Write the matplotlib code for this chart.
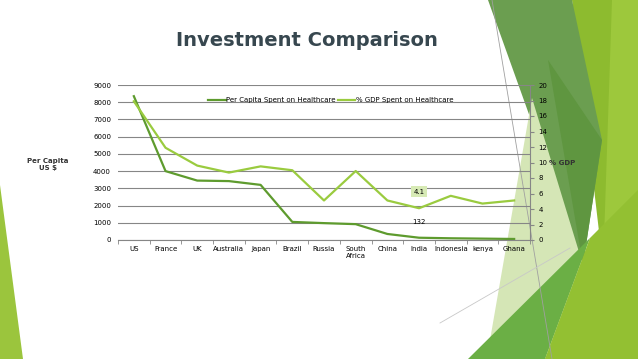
import numpy as np
import matplotlib
matplotlib.use("Agg")
import matplotlib.pyplot as plt
from matplotlib.patches import Polygon

countries = ["US", "France", "UK", "Australia", "Japan", "Brazil", "Russia",
             "South\nAfrica", "China", "India", "Indonesia", "kenya", "Ghana"]
per_capita = [8350, 4000, 3450, 3420, 3200, 1050, 980, 920, 350, 132, 100, 80, 60]
gdp_pct = [17.9, 11.9, 9.6, 8.7, 9.5, 9.0, 5.1, 8.9, 5.1, 4.1, 5.7, 4.7, 5.1]

dark_green = "#5E9B2E"
light_green = "#9ACB3F"

fig = plt.figure(figsize=(6.38, 3.59), dpi=100)
fig.patch.set_facecolor("white")

# background decoration (slide theme shapes), pixel coords from top-left
W, H = 638.0, 359.0
def shape(pts, color, z=-2):
    pts = [(x / W, 1 - y / H) for x, y in pts]
    fig.patches.append(Polygon(pts, closed=True, transform=fig.transFigure,
                               facecolor=color, edgecolor="none", zorder=z))

def thin_line(p0, p1, color):
    fig.add_artist(plt.Line2D([p0[0] / W, p1[0] / W], [1 - p0[1] / H, 1 - p1[1] / H],
                              transform=fig.transFigure, color=color, lw=0.6, zorder=-1))

shape([(0, 185), (23, 359), (0, 359)], "#9BC53D")
shape([(572, 0), (638, 0), (638, 359), (545, 359), (600, 240)], "#8DBB2F")
shape([(612, 0), (638, 0), (638, 359), (600, 359)], "#9DC83C")
shape([(488, 0), (572, 0), (602, 140), (583, 265)], "#6B9E50")
shape([(548, 60), (602, 140), (583, 265)], "#5F9640")
shape([(532, 98), (583, 265), (545, 359), (490, 340)], "#D5E6B6")
shape([(468, 359), (590, 238), (545, 359)], "#6BAF45")
shape([(545, 359), (590, 238), (638, 190), (638, 359)], "#93C032")
thin_line((492, 0), (552, 359), "#A0A0A0")
thin_line((440, 323), (570, 248), "#C8C8C8")

fig.text(307 / W, 1 - 40 / H, "Investment Comparison", ha="center", va="center",
         fontsize=14, fontweight="bold", color="#37474F", family="DejaVu Sans")

ax = fig.add_axes([118 / W, 1 - 240 / H, 412 / W, 155 / H])
ax.patch.set_alpha(0)
ax2 = ax.twinx()
ax.set_zorder(1)
ax2.set_zorder(2)
ax2.patch.set_alpha(0)

x = np.arange(len(countries))
l1, = ax.plot(x, per_capita, color=dark_green, lw=1.6, label="Per Capita Spent on Healthcare")
l2, = ax2.plot(x, gdp_pct, color=light_green, lw=1.6, label="% GDP Spent on Healthcare")

ax.set_xlim(-0.5, len(countries) - 0.5)
ax.set_ylim(0, 9000)
ax.set_yticks(np.arange(0, 9001, 1000))
ax2.set_ylim(0, 20)
ax2.set_yticks(np.arange(0, 21, 2))
ax.yaxis.grid(True, color="#868686", lw=0.8)
ax.set_axisbelow(True)

ax.set_xticks(x)
ax.set_xticklabels(countries)
ax.set_xticks(np.arange(-0.5, len(countries), 1), minor=True)
ax.tick_params(axis="x", which="major", length=0, labelsize=5, pad=4)
ax.tick_params(axis="x", which="minor", length=3, color="#868686")
ax.tick_params(axis="y", length=0, labelsize=5, pad=5)
ax2.tick_params(axis="y", length=3, color="#868686", labelsize=5, pad=3)

for a in (ax, ax2):
    for s in ("top", "left"):
        a.spines[s].set_visible(False)
    a.spines["bottom"].set_color("#868686")
    a.spines["right"].set_color("#868686")
ax.spines["right"].set_visible(False)
ax2.spines["bottom"].set_visible(False)

ax2.legend(handles=[l1, l2], loc="center", bbox_to_anchor=(0.517, 0.903), ncol=2,
           frameon=False, fontsize=5, handlelength=2.5, columnspacing=0.3, handletextpad=0.1)

ax2.annotate("4.1", (9, gdp_pct[9]), xytext=(0, 12), textcoords="offset points",
             ha="center", va="center", fontsize=5,
             bbox=dict(boxstyle="square,pad=0.3", fc="#D7EAB5", ec="none"))
ax.annotate("132", (9, per_capita[9]), xytext=(0, 11), textcoords="offset points",
            ha="center", va="center", fontsize=5)

fig.text(48 / W, 1 - 165 / H, "Per Capita\nUS $", ha="center", va="center",
         fontsize=5, fontweight="bold", color="#333333")
fig.text(549 / W, 1 - 163 / H, "% GDP", ha="left", va="center",
         fontsize=5, fontweight="bold", color="#333333", zorder=5)

fig.savefig("out.png", dpi=100)
